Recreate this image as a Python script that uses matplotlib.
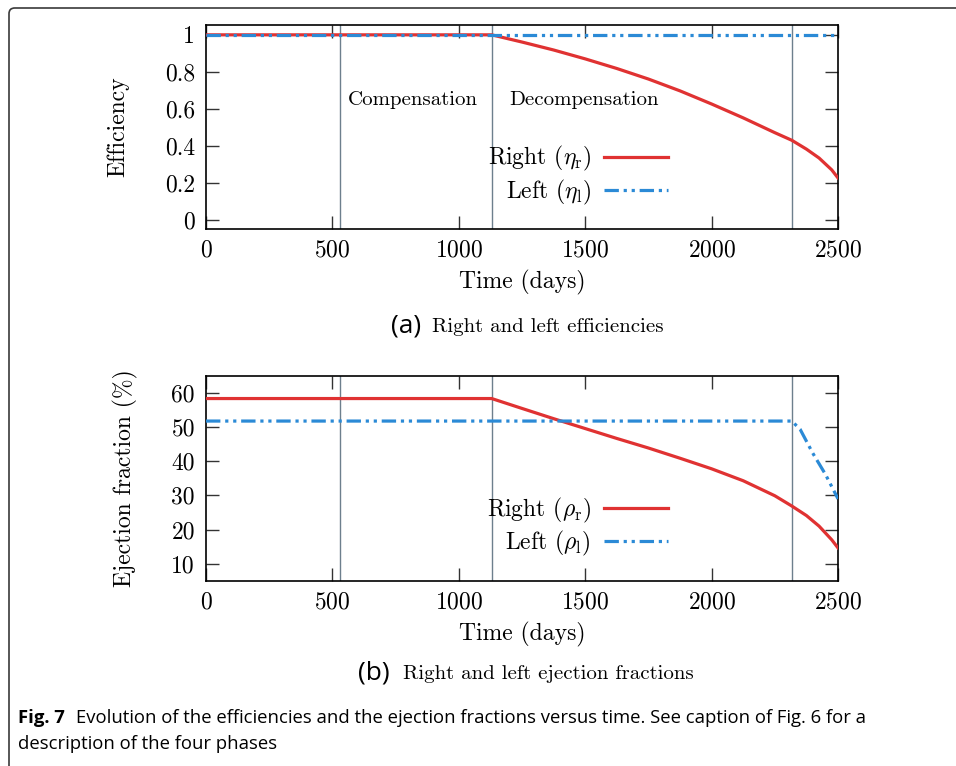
import matplotlib
matplotlib.use("Agg")
import matplotlib.pyplot as plt
from matplotlib.patches import FancyBboxPatch

plt.rcParams["font.family"] = "serif"
plt.rcParams["font.serif"] = ["cmr10"]
plt.rcParams["mathtext.fontset"] = "cm"
plt.rcParams["axes.formatter.use_mathtext"] = True

RED = "#e03232"
BLUE = "#2b8ad6"
PHASE_COLOR = "#6d7f8d"
DASH_DOT_DOT = (0, (4.5, 1.5, 1, 1.5, 1, 1.5))

# phase boundaries (days)
phase_bounds = [530, 1130, 2317]

# efficiencies
time_r = [0, 1130, 1250, 1375, 1500, 1625, 1750, 1875, 2000, 2125, 2250,
          2317, 2375, 2425, 2475, 2500]
eff_right = [1.0, 1.0, 0.961, 0.918, 0.870, 0.818, 0.761, 0.697, 0.626,
             0.551, 0.471, 0.430, 0.382, 0.334, 0.270, 0.226]
time_eff_l = [0, 2500]
eff_left = [1.0, 1.0]

# ejection fractions (%)
ef_right = [58.4, 58.4, 55.5, 52.5, 49.6, 46.7, 43.9, 40.9, 37.8, 34.3,
            29.9, 26.9, 24.1, 21.0, 17.0, 14.6]
time_ef_l = [0, 2317, 2350, 2400, 2450, 2500]
ef_left = [51.8, 51.8, 49.4, 42.4, 36.2, 29.0]

phase_labels = ["Compensation", "Decompensation"]
phase_label_x = [819, 1495]

eff_ticks = [0, 0.2, 0.4, 0.6, 0.8, 1]
ef_ticks = [10, 20, 30, 40, 50, 60]
time_ticks = [0, 500, 1000, 1500, 2000, 2500]


def style_axes(ax):
    for s in ax.spines.values():
        s.set_linewidth(1.2)
        s.set_color("black")
    ax.tick_params(direction="in", length=9.5, width=1.0, top=True, right=True,
                   labelsize=17, color="#333333")
    ax.tick_params(axis="x", pad=7.5)
    ax.tick_params(axis="y", pad=8)
    ax.set_xlim(0, 2500)
    ax.set_xticks(time_ticks)
    ax.yaxis.set_major_formatter(plt.FuncFormatter(lambda v, _: f"{v:g}"))
    for b in phase_bounds:
        ax.axvline(b, color=PHASE_COLOR, lw=1.0, zorder=1)


def add_legend(ax):
    ax.legend(loc="center right", bbox_to_anchor=(0.731, 0.262), frameon=False,
              markerfirst=False, fontsize=17, handlelength=2.7, handletextpad=0.55,
              labelspacing=0.18, borderpad=0, borderaxespad=0)


fig = plt.figure(figsize=(9.56, 7.66), dpi=100)

# outer frame with rounded top-left corner
frame = FancyBboxPatch((9 / 956, -0.1), 1.2, 1.1 - 8 / 766,
                       boxstyle="round,pad=0,rounding_size=0.006",
                       mutation_aspect=956 / 766,
                       transform=fig.transFigure, fill=False,
                       edgecolor="#3a3a3a", lw=1.2, clip_on=False)
fig.add_artist(frame)

# (a) efficiencies
ax1 = fig.add_axes([0.2155, 0.7010, 0.6611, 0.2668])
style_axes(ax1)
ax1.plot(time_r, eff_right, color=RED, lw=2.3, label=r"Right $(\eta_\mathrm{r})$", zorder=3)
ax1.plot(time_eff_l, eff_left, color=BLUE, lw=2.3, linestyle=DASH_DOT_DOT,
         label=r"Left $(\eta_\mathrm{l})$", zorder=4)
ax1.set_ylim(-0.05, 1.055)
ax1.set_yticks(eff_ticks)
for lbl, x in zip(phase_labels, phase_label_x):
    ax1.text(x, 0.645, lbl, ha="center", va="center", fontsize=15)
ax1.set_ylabel("Efficiency", fontsize=17)
ax1.set_xlabel("Time (days)", fontsize=17)
ax1.yaxis.set_label_coords(-0.122, 0.5)
ax1.xaxis.set_label_coords(0.5, -0.2)
add_legend(ax1)

# (b) ejection fractions
ax2 = fig.add_axes([0.2155, 0.2419, 0.6611, 0.2672])
style_axes(ax2)
ax2.plot(time_r, ef_right, color=RED, lw=2.3, label=r"Right $(\rho_\mathrm{r})$", zorder=3)
ax2.plot(time_ef_l, ef_left, color=BLUE, lw=2.3, linestyle=DASH_DOT_DOT,
         label=r"Left $(\rho_\mathrm{l})$", zorder=4)
ax2.set_ylim(5, 65)
ax2.set_yticks(ef_ticks)
ax2.set_ylabel("Ejection fraction (%)", fontsize=17)
ax2.set_xlabel("Time (days)", fontsize=17)
ax2.yaxis.set_label_coords(-0.107, 0.5)
ax2.xaxis.set_label_coords(0.5, -0.2)
add_legend(ax2)

# sub captions
fig.text(391 / 956, 1 - 326 / 766, "(a)", family="Open Sans", fontsize=19,
         ha="left", va="center")
fig.text(432 / 956, 1 - 327 / 766, "Right and left efficiencies", fontsize=15,
         ha="left", va="center")
fig.text(358 / 956, 1 - 673 / 766, "(b)", family="Open Sans", fontsize=19,
         ha="left", va="center")
fig.text(403 / 956, 1 - 674 / 766, "Right and left ejection fractions", fontsize=15,
         ha="left", va="center")

# figure caption
cap_font = ["Open Sans", "DejaVu Sans"]
fig.text(18 / 956, 1 - 718 / 766, "Fig. 7", family=cap_font, fontweight="bold",
         fontsize=13.3, ha="left", va="center")
fig.text(76 / 956, 1 - 718 / 766,
         "Evolution of the efficiencies and the ejection fractions versus time. "
         "See caption of Fig. 6 for a",
         family=cap_font, fontsize=13.3, ha="left", va="center")
fig.text(18 / 956, 1 - 744 / 766, "description of the four phases",
         family=cap_font, fontsize=13.3, ha="left", va="center")

fig.savefig("out.png", dpi=100)
